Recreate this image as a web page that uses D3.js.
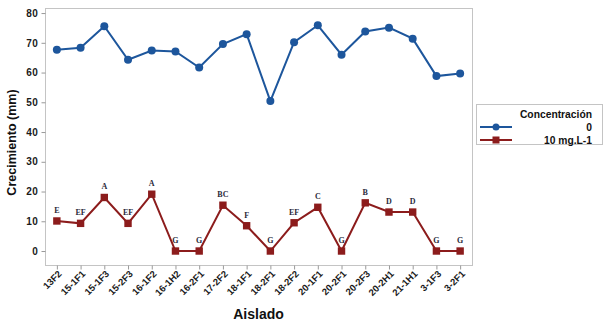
<!DOCTYPE html>
<html lang="es">
<head>
<meta charset="utf-8">
<title>Crecimiento</title>
<script src="https://d3js.org/d3.v7.min.js"></script>
<style>
  body { margin: 0; background: #fff; }
  svg { display: block; font-family: "Liberation Sans", Arial, sans-serif; }
</style>
</head>
<body>
<svg id="chart" width="603" height="322"></svg>
<script>
// data
var aislados = ["13F2", "15-1F1", "15-1F3", "15-2F3", "16-1F2", "16-1H2", "16-2F1", "17-2F2", "18-1F1",
                "18-2F1", "18-2F2", "20-1F1", "20-2F1", "20-2F3", "20-2H1", "21-1H1", "3-1F3", "3-2F1"]
var conc0 = [67.7, 68.3, 75.6, 64.3, 67.4, 67.1, 61.7, 69.6, 72.9, 50.4, 70.2, 75.9, 66.0, 73.8, 75.1, 71.4, 58.8, 59.7]
var conc10 = [10.1, 9.3, 18.0, 9.3, 19.1, 0, 0, 15.4, 8.5, 0, 9.5, 14.7, 0, 16.2, 13.1, 13.1, 0, 0]
var letras = ["E", "EF", "A", "EF", "A", "G", "G", "BC", "F", "G", "EF", "C", "G", "B", "D", "D", "G", "G"]
var yTicks = [0, 10, 20, 30, 40, 50, 60, 70, 80]
var legendTitle = "Concentración"
var seriesNames = ["0", "10 mg.L-1"]

// colors
var blue = "#1d569c"
var red = "#8c1c1c"
var frameGray = "#c4c4c4"

var frame = {left: 45, top: 8, right: 472, bottom: 265}

var svg = d3.select("#chart")

var x = d3.scalePoint()
  .domain(aislados)
  .range([frame.left, frame.right])
  .padding(0.5)

var y = d3.scaleLinear()
  .domain([-4.7, 81.7])
  .range([frame.bottom, frame.top])

// plot frame
svg.append("rect")
  .attr("x", frame.left + 0.5)
  .attr("y", frame.top + 0.5)
  .attr("width", frame.right - frame.left)
  .attr("height", frame.bottom - frame.top)
  .attr("fill", "none")
  .attr("stroke", frameGray)

// y axis
var yAxis = svg.append("g")
  .attr("transform", "translate(" + (frame.left + 0.5) + ",0)")
  .call(d3.axisLeft(y).tickValues(yTicks).tickSize(4).tickPadding(3))
yAxis.select(".domain").remove()
yAxis.selectAll(".tick line").attr("stroke", "#999")
yAxis.selectAll("text")
  .attr("font-family", "Liberation Sans, Arial, sans-serif")
  .attr("font-size", 10)
  .attr("font-weight", "bold")
  .attr("letter-spacing", 0.6)
  .attr("fill", "#1a1a1a")

// x axis
var xAxis = svg.append("g")
  .attr("transform", "translate(0," + (frame.bottom + 0.5) + ")")
  .call(d3.axisBottom(x).tickSize(4).tickPadding(2))
xAxis.select(".domain").remove()
xAxis.selectAll(".tick line").attr("stroke", "#999")
xAxis.selectAll("text")
  .attr("font-family", "Liberation Sans, Arial, sans-serif")
  .attr("font-size", 9.5)
  .attr("font-weight", "bold")
  .attr("fill", "#1a1a1a")
  .attr("text-anchor", "end")
  .attr("dy", null)
  .attr("y", 0)
  .attr("transform", "translate(5,9) rotate(-45)")

// axis titles
svg.append("text")
  .attr("transform", "translate(16," + ((frame.top + frame.bottom) / 2 + 6) + ") rotate(-90)")
  .attr("text-anchor", "middle")
  .attr("font-size", 12.5)
  .attr("font-weight", "bold")
  .attr("fill", "#111")
  .text("Crecimiento (mm)")

svg.append("text")
  .attr("x", (frame.left + frame.right) / 2)
  .attr("y", 319)
  .attr("text-anchor", "middle")
  .attr("font-size", 14)
  .attr("font-weight", "bold")
  .attr("fill", "#111")
  .text("Aislado")

// lines
var line = function(vals) {
  return d3.line()
    .x(function(d, i) { return x(aislados[i]) })
    .y(function(d) { return y(d) })(vals)
}

svg.append("path")
  .attr("d", line(conc0))
  .attr("fill", "none")
  .attr("stroke", blue)
  .attr("stroke-width", 2)

svg.append("path")
  .attr("d", line(conc10))
  .attr("fill", "none")
  .attr("stroke", red)
  .attr("stroke-width", 2)

// markers
svg.selectAll("circle.m0")
  .data(conc0)
  .enter()
  .append("circle")
  .attr("class", "m0")
  .attr("cx", function(d, i) { return x(aislados[i]) })
  .attr("cy", function(d) { return y(d) })
  .attr("r", 4)
  .attr("fill", blue)

svg.selectAll("rect.m10")
  .data(conc10)
  .enter()
  .append("rect")
  .attr("class", "m10")
  .attr("x", function(d, i) { return x(aislados[i]) - 3.7 })
  .attr("y", function(d) { return y(d) - 3.7 })
  .attr("width", 7.4)
  .attr("height", 7.4)
  .attr("fill", red)

// significance letters
svg.selectAll("text.letra")
  .data(conc10)
  .enter()
  .append("text")
  .attr("class", "letra")
  .attr("x", function(d, i) { return x(aislados[i]) })
  .attr("y", function(d) { return y(d) - 8 })
  .attr("text-anchor", "middle")
  .attr("font-family", "Liberation Serif, Times New Roman, serif")
  .attr("font-size", 8)
  .attr("font-weight", "bold")
  .attr("fill", "#2a2a3a")
  .text(function(d, i) { return letras[i] })

// legend
var lg = svg.append("g")
lg.append("rect")
  .attr("x", 476.5)
  .attr("y", 104.5)
  .attr("width", 126)
  .attr("height", 40)
  .attr("fill", "#fff")
  .attr("stroke", frameGray)

lg.append("text")
  .attr("x", 592)
  .attr("y", 118)
  .attr("text-anchor", "end")
  .attr("font-size", 10.3)
  .attr("font-weight", "bold")
  .attr("fill", "#111")
  .text(legendTitle)

var legendRows = [
  {name: seriesNames[0], color: blue, shape: "circle", y: 127},
  {name: seriesNames[1], color: red, shape: "square", y: 140}
]

legendRows.forEach(function(r) {
  lg.append("line")
    .attr("x1", 480).attr("x2", 512)
    .attr("y1", r.y).attr("y2", r.y)
    .attr("stroke", r.color)
    .attr("stroke-width", 2)
  if (r.shape == "circle") {
    lg.append("circle").attr("cx", 496).attr("cy", r.y).attr("r", 3.5).attr("fill", r.color)
  } else {
    lg.append("rect").attr("x", 492.5).attr("y", r.y - 3.5).attr("width", 7).attr("height", 7).attr("fill", r.color)
  }
  lg.append("text")
    .attr("x", 592)
    .attr("y", r.y + 3.5)
    .attr("text-anchor", "end")
    .attr("font-size", 10.3)
    .attr("font-weight", "bold")
    .attr("fill", "#111")
    .text(r.name)
})
</script>
</body>
</html>
